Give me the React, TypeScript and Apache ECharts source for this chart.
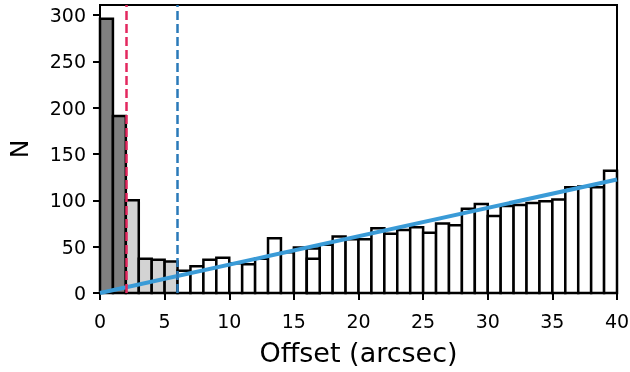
import React, { useEffect, useRef } from "react";
import * as echarts from "echarts";

// Histogram bins (lower edges, arcsec) and counts
const binLeft = [0, 1, 2, 3, 4, 5, 6, 7, 8, 9, 10, 11, 12, 13, 14, 15, 16, 17, 18, 19, 20, 21, 22, 23, 24, 25, 26, 27, 28, 29, 30, 31, 32, 33, 34, 35, 36, 37, 38, 39];
const binWidth = 1;
const counts = [296, 191, 100, 37, 36, 34, 24, 29, 36, 38, 32, 31, 37, 59, 44, 49, 48, 52, 61, 58, 58, 70, 64, 68, 71, 65, 75, 73, 91, 96, 83, 94, 95, 97, 99, 101, 114, 115, 114, 132];
// Overlaid histogram outline visible in one bin
const overlayLeft = [16];
const overlayCounts = [37];

// Radii marked by dashed lines
const innerRadius = 2;
const outerRadius = 6;

// Background fit line
const fitX = [0, 40];
const fitY = [0, 122.5];

const xTicks = [0, 5, 10, 15, 20, 25, 30, 35, 40];
const yTicks = [0, 50, 100, 150, 200, 250, 300];

const FONT = "DejaVu Sans";
const GRAY = "#808080";
const LIGHT = "#d3d3d3";
const RED = "#e3285f";
const BLUE_DASH = "#2a7ab9";
const BLUE_FIT = "#3a9bd7";

function fillFor(x0: number) {
  if (x0 < innerRadius) return GRAY;
  if (x0 < outerRadius) return LIGHT;
  return "#ffffff";
}

const makeRender = (fixedFill?: string) => (params: any, api: any) => {
  const x0 = api.value(0);
  const x1 = api.value(1);
  const v = api.value(2);
  const p0 = api.coord([x0, v]);
  const p1 = api.coord([x1, 0]);
  return {
    type: "rect",
    shape: { x: p0[0], y: p0[1], width: p1[0] - p0[0], height: p1[1] - p0[1] },
    style: { fill: fixedFill || fillFor(x0), stroke: "#000", lineWidth: 2.5 },
  };
};

export default function App() {
  const ref = useRef<HTMLDivElement>(null);
  useEffect(() => {
    if (!ref.current) return;
    const chart = echarts.init(ref.current, null, { renderer: "svg" });
    const histData = binLeft.map((x, i) => [x, x + binWidth, counts[i]]);
    const overlayData = overlayLeft.map((x, i) => [x, x + binWidth, overlayCounts[i]]);
    const fitData = fitX.map((x, i) => [x, fitY[i]]);
    const ymax = Math.max(...counts) * 1.05;
    chart.setOption({
      animation: false,
      grid: {
        left: 100,
        right: 13,
        top: 5,
        bottom: 79,
        containLabel: false,
        outerBoundsMode: "none",
        show: true,
        borderColor: "#000",
        borderWidth: 2,
        backgroundColor: "transparent",
      },
      xAxis: {
        type: "value",
        min: 0,
        max: 40,
        interval: 5,
        splitLine: { show: false },
        axisLine: { show: true, onZero: false, lineStyle: { color: "#000", width: 2 } },
        axisTick: { show: true, length: 7, customValues: xTicks, lineStyle: { color: "#000", width: 2 } },
        axisLabel: { color: "#000", fontSize: 19, fontFamily: FONT, margin: 18, customValues: xTicks },
        name: "Offset (arcsec)",
        nameLocation: "middle",
        nameGap: 46,
        nameTextStyle: { color: "#000", fontSize: 27, fontFamily: FONT },
      },
      yAxis: {
        type: "value",
        min: 0,
        max: ymax,
        splitLine: { show: false },
        axisLine: { show: true, onZero: false, lineStyle: { color: "#000", width: 2 } },
        axisTick: { show: true, length: 7, customValues: yTicks, lineStyle: { color: "#000", width: 2 } },
        axisLabel: {
          color: "#000",
          fontSize: 19,
          fontFamily: FONT,
          margin: 14,
          customValues: yTicks,
        },
        name: "N",
        nameLocation: "middle",
        nameGap: 68,
        nameTextStyle: { color: "#000", fontSize: 25, fontFamily: FONT },
      },
      series: [
        {
          type: "custom",
          renderItem: makeRender(),
          data: histData,
          encode: { x: [0, 1], y: 2 },
          z: 2,
        },
        {
          type: "custom",
          renderItem: makeRender("#ffffff"),
          data: overlayData,
          encode: { x: [0, 1], y: 2 },
          z: 3,
        },
        {
          type: "line",
          data: fitData,
          symbol: "none",
          lineStyle: { color: BLUE_FIT, width: 4 },
          z: 4,
          markLine: {
            silent: true,
            symbol: "none",
            label: { show: false },
            data: [
              { xAxis: innerRadius, lineStyle: { color: RED, type: [9, 4], width: 2.5 } },
              { xAxis: outerRadius, lineStyle: { color: BLUE_DASH, type: [9, 4], width: 2.5 } },
            ],
          },
        },
      ],
    });
    return () => chart.dispose();
  }, []);
  return <div ref={ref} style={{ position: "fixed", left: 0, top: 0, width: 630, height: 372 }} />;
}
